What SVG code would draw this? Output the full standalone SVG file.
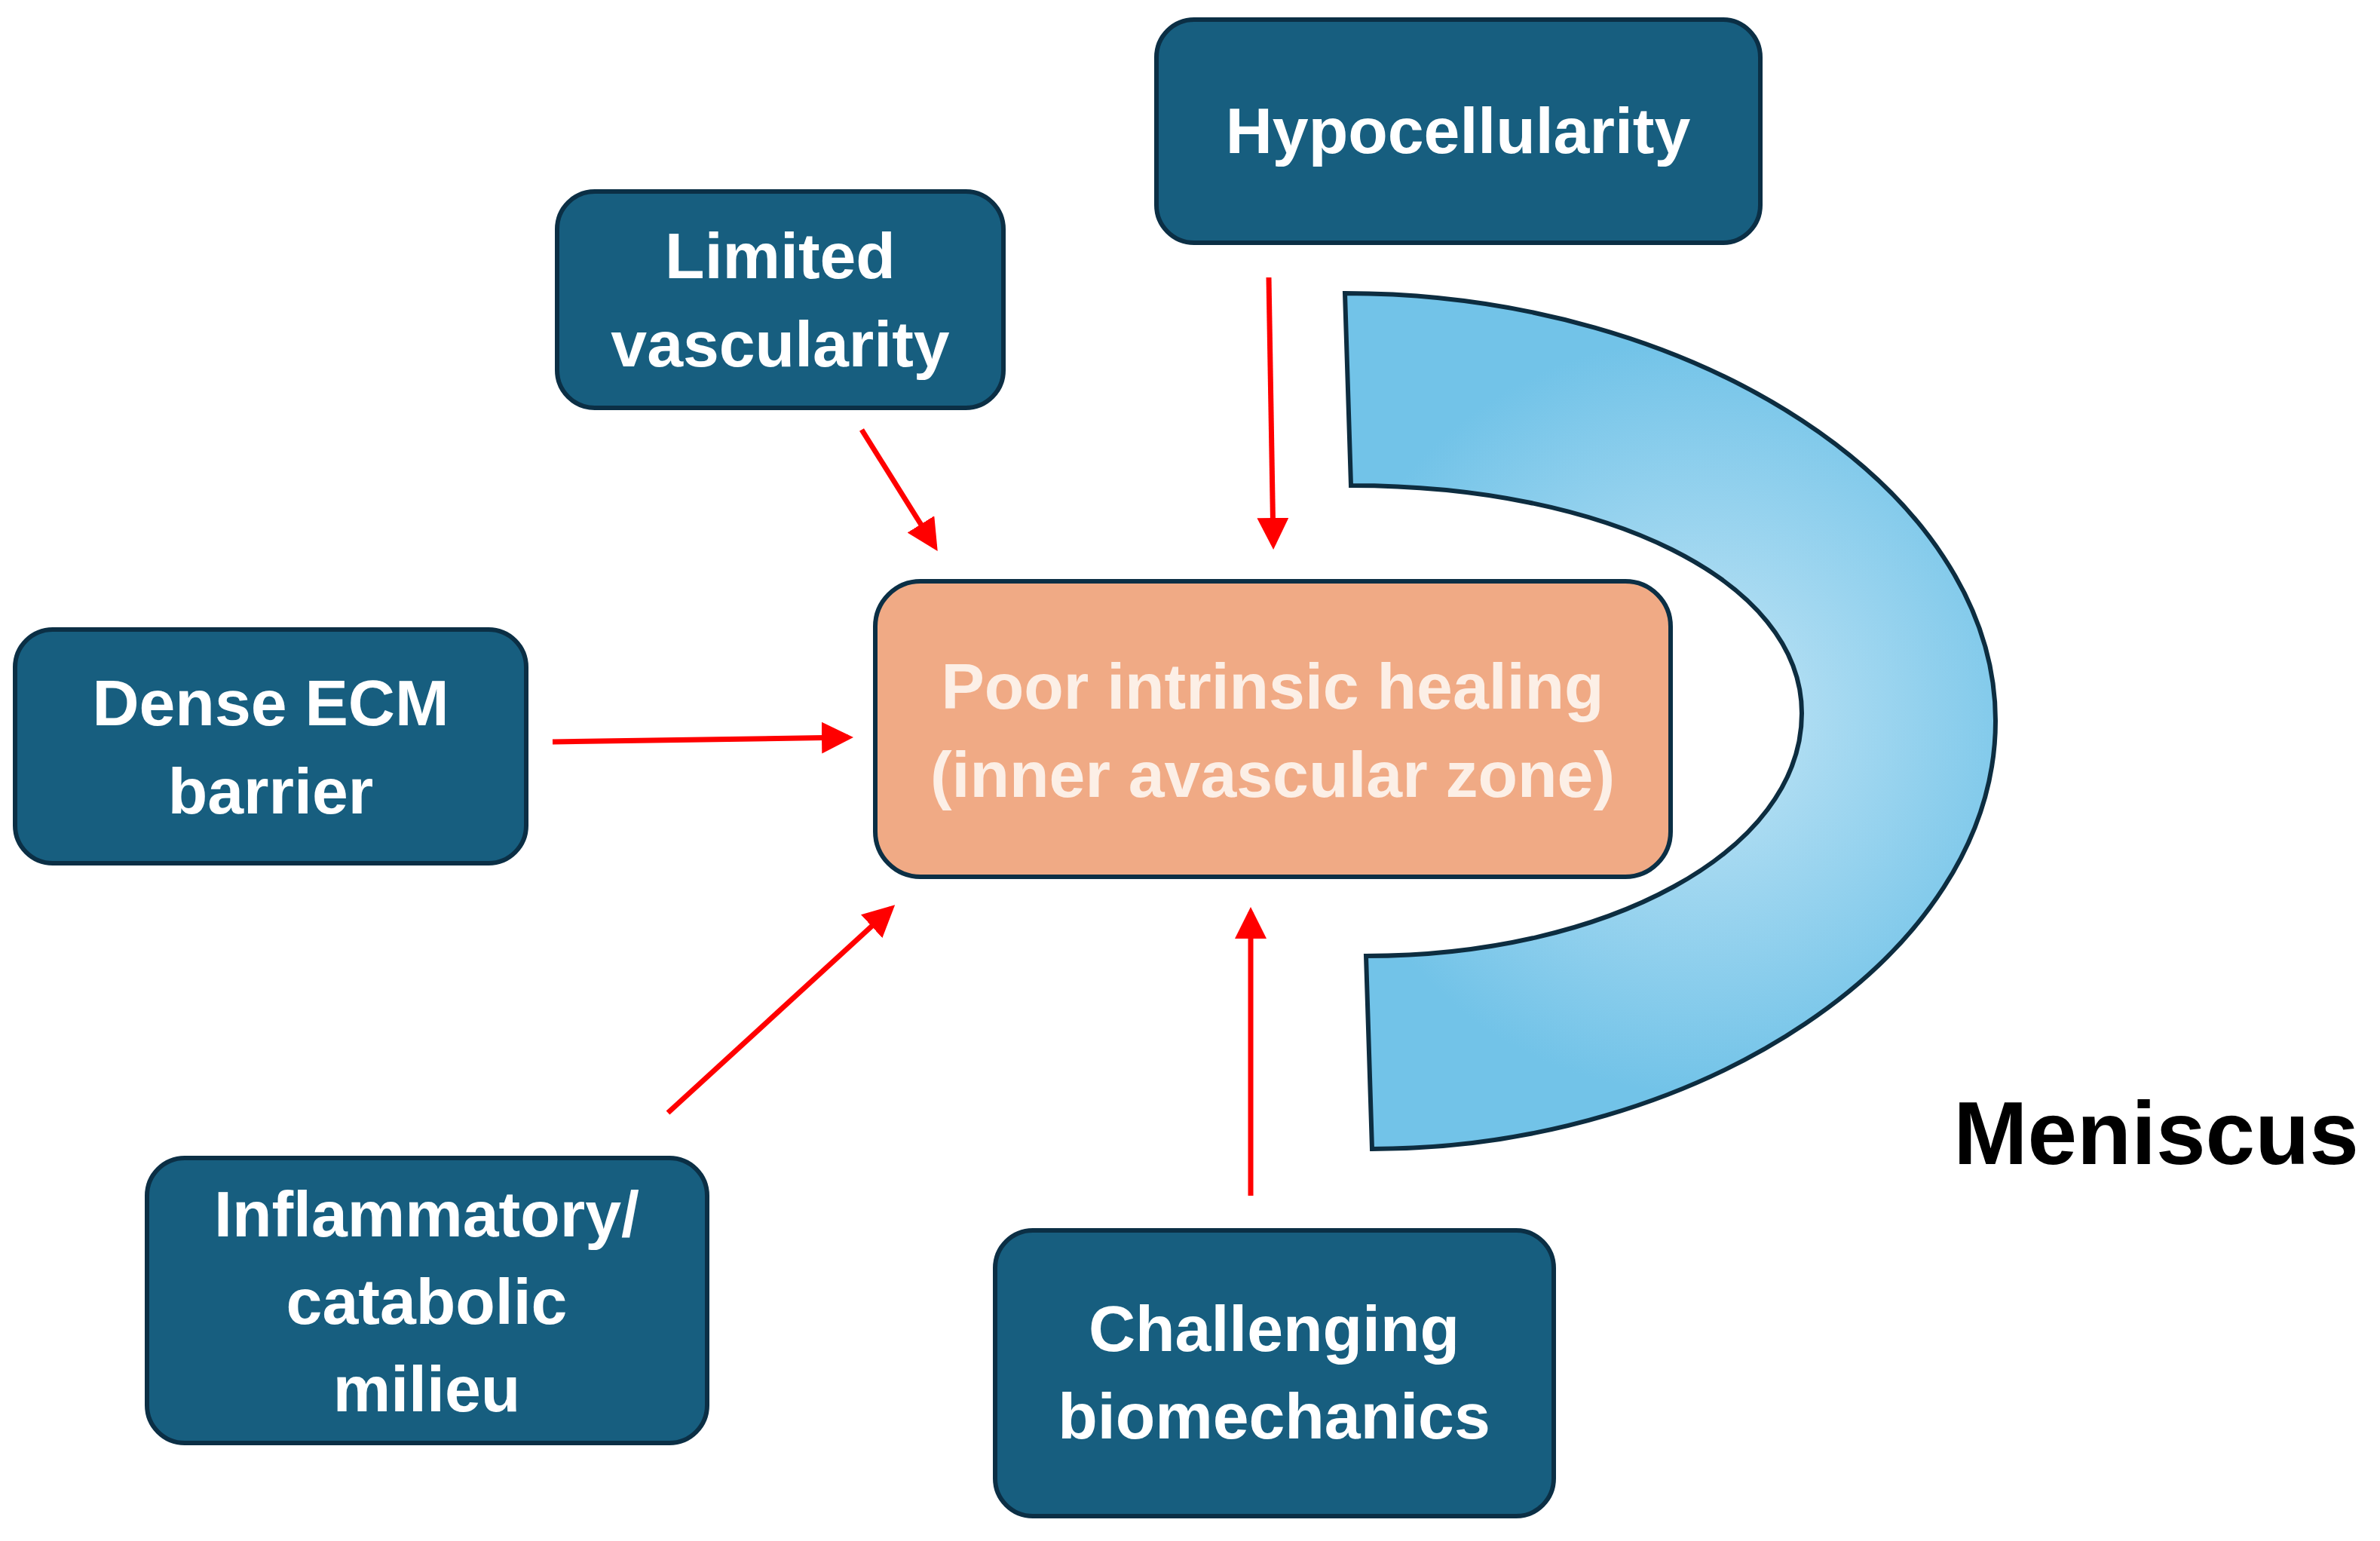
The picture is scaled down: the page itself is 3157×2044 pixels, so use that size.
<svg xmlns="http://www.w3.org/2000/svg" width="3157" height="2044" viewBox="0 0 3157 2044">
<style>
.box{fill:#175E7F;stroke:#0B2F45;stroke-width:6}
.t{font-family:"Liberation Sans",Arial,sans-serif;font-weight:bold;font-size:86px;fill:#fff;text-anchor:middle}
.ct{font-family:"Liberation Sans",Arial,sans-serif;font-weight:bold;font-size:86px;fill:#FCEFE6;text-anchor:middle}
.arr{stroke:#F00;stroke-width:7;fill:none;marker-end:url(#ah)}
</style>
<defs>
<marker id="ah" markerWidth="6" markerHeight="6" refX="5" refY="3" orient="auto" markerUnits="strokeWidth">
<path d="M0,0 L6,3 L0,6 Z" fill="#F00"/>
</marker>
<radialGradient id="mg" cx="2250" cy="950" r="500" gradientUnits="userSpaceOnUse">
<stop offset="0" stop-color="#C4E6F6"/>
<stop offset="1" stop-color="#72C3E8"/>
</radialGradient>
</defs>
<rect width="3157" height="2044" fill="#fff"/>
<g id="meniscus">
<path d="M1784,389 C2250,389 2647,650 2647,956 C2647,1270 2250,1524 1820,1524 L1812,1268 C2130,1268 2390,1130 2390,946 C2390,770 2130,644 1792,644 Z" fill="url(#mg)" stroke="#0D2D40" stroke-width="6"/>
<text x="2860" y="1544" font-family="Liberation Sans,Arial,sans-serif" font-weight="bold" font-size="118" text-anchor="middle" fill="#000">Meniscus</text>
</g>
<g id="hypocellularity">
<rect class="box" x="1534" y="26" width="801" height="296" rx="50"/>
<text class="t" x="1934" y="203">Hypocellularity</text>
</g>
<g id="limited">
<rect class="box" x="739" y="254" width="592" height="287" rx="50"/>
<text class="t" x="1035" y="369">Limited</text>
<text class="t" x="1035" y="486">vascularity</text>
</g>
<g id="dense">
<rect class="box" x="20" y="835" width="678" height="310" rx="50"/>
<text class="t" x="359" y="962">Dense ECM</text>
<text class="t" x="359" y="1079">barrier</text>
</g>
<g id="central">
<rect x="1161" y="771" width="1055" height="392" rx="60" fill="#F0AA85" stroke="#0B2F45" stroke-width="6"/>
<text class="ct" x="1688" y="940">Poor intrinsic healing</text>
<text class="ct" x="1688" y="1057">(inner avascular zone)</text>
</g>
<g id="inflammatory">
<rect class="box" x="195" y="1536" width="743" height="378" rx="50"/>
<text class="t" x="566" y="1640">Inflammatory/</text>
<text class="t" x="566" y="1756">catabolic</text>
<text class="t" x="566" y="1872">milieu</text>
</g>
<g id="challenging">
<rect class="box" x="1320" y="1632" width="741" height="379" rx="50"/>
<text class="t" x="1690" y="1792">Challenging</text>
<text class="t" x="1690" y="1908">biomechanics</text>
</g>
<g id="connectors">
<line class="arr" x1="1143" y1="570" x2="1240" y2="725"/>
<line class="arr" x1="1683" y1="368" x2="1689" y2="722"/>
<line class="arr" x1="733" y1="984" x2="1125" y2="978"/>
<line class="arr" x1="886" y1="1476" x2="1182" y2="1205"/>
<line class="arr" x1="1659" y1="1586" x2="1659" y2="1210"/>
</g>
</svg>
